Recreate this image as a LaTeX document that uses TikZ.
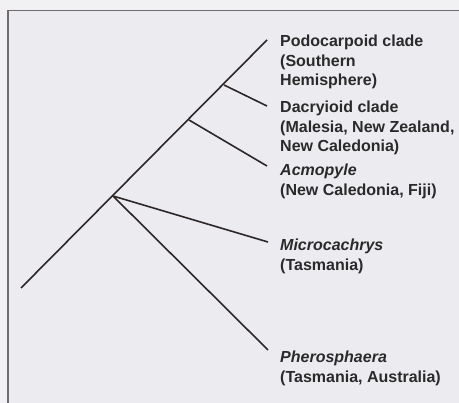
\documentclass[tikz,border=0pt]{standalone}
\usepackage{fontspec}
\setmainfont{Liberation Sans}
\usetikzlibrary{positioning}
\definecolor{pagebg}{HTML}{F1F1F3}
\definecolor{panelbg}{HTML}{EBEBF0}
\definecolor{framecol}{HTML}{716B70}
\definecolor{branchcol}{HTML}{2E2727}
\definecolor{textcol}{HTML}{2A2A2A}
\tikzset{
    branch/.style={draw=branchcol, line width=1.6pt},
    taxon/.style={anchor=north west, inner sep=0pt, align=left, text=textcol,
        font=\bfseries\fontsize{16}{19.5}\selectfont}
}

\begin{document}
\begin{tikzpicture}[x=1pt, y=-1pt]
\useasboundingbox (0,0) rectangle (459,403);
\fill[pagebg] (0,0) rectangle (459,403);
\fill[panelbg] (8,10.5) rectangle (459,403);
\draw[framecol, line width=1.4pt] (8,403) -- (8,10.5) -- (459,10.5);

% tree
\coordinate (root) at (21,288);
\coordinate (nMicr) at (113,196);
\coordinate (nAcmo) at (189,120);
\coordinate (nDacr) at (224,85);
\coordinate (tPodo) at (267,40);
\coordinate (tDacr) at (267,106);
\coordinate (tAcmo) at (267,166);
\coordinate (tMicr) at (268,242);
\coordinate (tPher) at (268,350);

\draw[branch] (root) -- (tPodo);
\draw[branch] (nDacr) -- (tDacr);
\draw[branch] (nAcmo) -- (tAcmo);
\draw[branch] (nMicr) -- (tMicr);
\draw[branch] (nMicr) -- (tPher);

% taxa
\node[taxon] (podo) at (280,35) {Podocarpoid clade\\(Southern\\Hemisphere)};
\node[taxon] (dacr) at (280,101) {Dacryioid clade\\(Malesia, New Zealand,\\New Caledonia)};
\node[taxon] (acmo) at (280,164) {\textit{Acmopyle}\\(New Caledonia, Fiji)};
\node[taxon] (micr) at (280,239) {\textit{Microcachrys}\\(Tasmania)};
\node[taxon] (pher) at (280,351) {\textit{Pherosphaera}\\(Tasmania, Australia)};
\end{tikzpicture}
\end{document}
